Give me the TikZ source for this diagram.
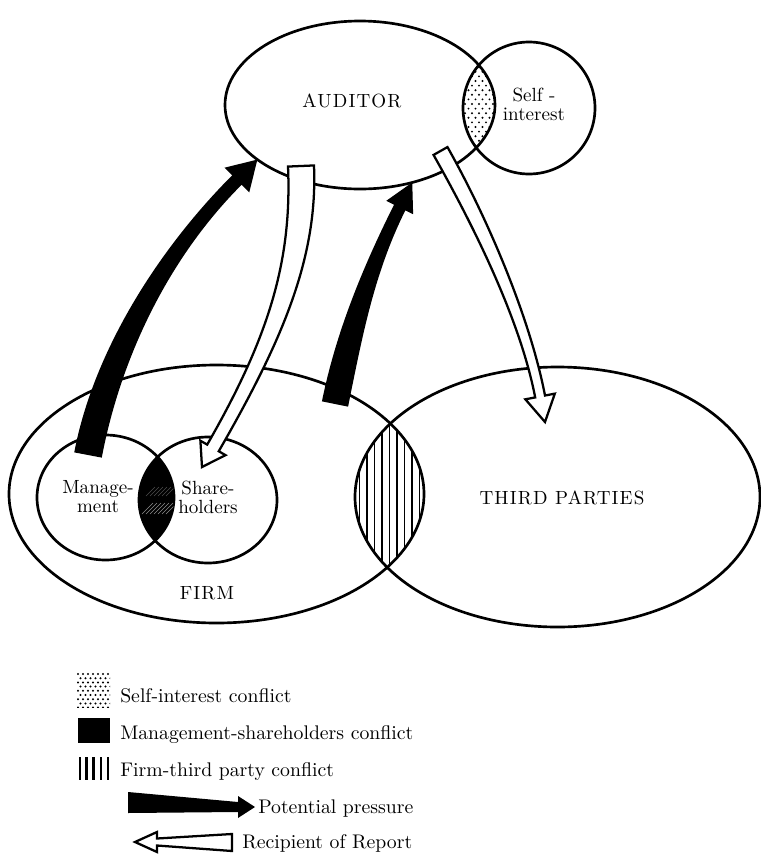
\documentclass[tikz,border=0pt]{standalone}
\usepackage{fontspec}
\setmainfont{lmroman10-regular.otf}
\usetikzlibrary{calc,shapes.geometric}

% Tapered, curved arrow with a triangular head.
% #1 style, #2 tail coordinate, #3 first control (relative to tail),
% #4 second control (relative to tip), #5 tip coordinate,
% #6 tail half-width, #7 neck half-width, #8 head half-width, #9 head length
\newcommand\bentarrow[9]{%
  \path (#2) coordinate (ba-p0)
        ($(#2)+#3$) coordinate (ba-c1)
        ($(#5)+#4$) coordinate (ba-c2)
        (#5) coordinate (ba-x);
  \path ($(ba-x)!#9!(ba-c2)$) coordinate (ba-p3);
  \path ($(ba-p0)!#6!90:(ba-c1)$) coordinate (ba-l0)
        ($(ba-p0)!#6!-90:(ba-c1)$) coordinate (ba-r0)
        ($(ba-p3)!#7!-90:(ba-c2)$) coordinate (ba-l3)
        ($(ba-p3)!#7!90:(ba-c2)$) coordinate (ba-r3)
        ($(ba-p3)!#8!-90:(ba-c2)$) coordinate (ba-lh)
        ($(ba-p3)!#8!90:(ba-c2)$) coordinate (ba-rh);
  \path[#1] (ba-l0)
     .. controls ($(ba-l0)+(ba-c1)-(ba-p0)$) and ($(ba-l3)+(ba-c2)-(ba-p3)$) .. (ba-l3)
     -- (ba-lh) -- (ba-x) -- (ba-rh) -- (ba-r3)
     .. controls ($(ba-r3)+(ba-c2)-(ba-p3)$) and ($(ba-r0)+(ba-c1)-(ba-p0)$) .. (ba-r0)
     -- cycle;
}

\tikzset{
  ring/.style={draw, line width=2pt, ellipse, inner sep=0pt, outer sep=0pt},
  lbl/.style={font=\fontsize{14.3}{14.3}\selectfont, align=center, inner sep=0pt},
  caplbl/.style={font=\fontsize{14.3}{14.3}\selectfont\addfontfeature{LetterSpace=6}, inner sep=0pt},
  legtxt/.style={font=\fontsize{14.8}{15}\selectfont, anchor=base west, inner sep=0pt},
  pressure/.style={fill=black},
  report/.style={fill=white, draw=black, line width=1.7pt, line join=miter},
}

\begin{document}
\begin{tikzpicture}[x=0.75pt,y=-0.75pt]
\fill[white] (0,0) rectangle (761,854);
\useasboundingbox (0,0) rectangle (761,854);

% parties
\node[ring, minimum width=202.5pt, minimum height=126pt] (auditor) at (360,105) {};
\node[ring, circle, minimum size=99pt] (self) at (529,108) {};
\node[ring, minimum width=311.25pt, minimum height=193.5pt] (firm) at (216.5,494) {};
\node[ring, minimum width=303.75pt, minimum height=195pt] (third) at (557.5,497) {};
\node[ring, minimum width=102.75pt, minimum height=93.75pt] (mgmt) at (105.5,497.5) {};
\node[ring, minimum width=103.5pt, minimum height=94.5pt] (share) at (208,500) {};

% self-interest conflict: dotted lens
\begin{scope}
  \clip (auditor.center) ellipse [x radius=101.25pt, y radius=63pt];
  \clip (self.center) circle [radius=49.5pt];
  \foreach \j in {0,...,20}
    \foreach \i in {0,...,6}
      \fill ({458+\i*7+mod(\j,2)*3.5},{58+\j*4.6}) circle [radius=0.8pt];
\end{scope}

% management-shareholders conflict: dark lens
\begin{scope}
  \clip (mgmt.center) ellipse [x radius=51.375pt, y radius=46.875pt];
  \fill (share.center) ellipse [x radius=51.75pt, y radius=47.25pt];
  \foreach \k in {0,...,6}
    \draw[white, line width=0.4pt, opacity=0.55] ({142+\k*4},{514}) -- ++(11,-11);
  \foreach \k in {0,...,5}
    \draw[white, line width=0.3pt, opacity=0.3] ({146+\k*4},{496}) -- ++(9,-9);
\end{scope}

% firm-third party conflict: striped lens
\begin{scope}
  \clip (firm.center) ellipse [x radius=155.625pt, y radius=96.75pt];
  \clip (third.center) ellipse [x radius=151.875pt, y radius=97.5pt];
  \foreach \k in {0,...,9}
    \draw[line width=1.2pt] ({359.5+\k*7.5},410) -- ({359.5+\k*7.5},580);
\end{scope}

% labels
\node[caplbl] (auditorlbl) at (352,101) {AUDITOR};
\node[lbl] (selflbl) at (534,104) {Self -\\interest};
\node[lbl] (mgmtlbl) at (98,497) {Manage-\\ment};
\node[lbl] (sharelbl) at (208,497) {Share-\\holders};
\node[caplbl] (firmlbl) at (207,593) {FIRM};
\node[caplbl] (thirdlbl) at (562,498) {THIRD PARTIES};

% pressure from management and from the firm on the auditor
\coordinate (pA0) at ($(mgmt.center)+(-17.5,-42.5)$);
\coordinate (pAx) at (auditor.208);
\bentarrow{pressure}{pA0}{(20,-105)}{(-90.5,90.5)}{pAx}{10.5pt}{5pt}{13.125pt}{21.75pt}

\coordinate (pB0) at ($(firm.center)+(118.5,-90)$);
\coordinate (pBx) at (auditor.304);
\bentarrow{pressure}{pB0}{(14,-69)}{(-44,88)}{pBx}{10pt}{4.75pt}{11.25pt}{21pt}

% the auditor's report going to shareholders and to third parties
\coordinate (pC0) at ($(auditor.center)+(-59,61)$);
\coordinate (pCx) at ($(share.center)+(-6,-33)$);
\bentarrow{report}{pC0}{(4,94)}{(73,-127)}{pCx}{9.75pt}{5pt}{10.875pt}{16.5pt}

\coordinate (pD0) at ($(auditor.center)+(80.5,46)$);
\coordinate (pDx) at ($(third.center)+(-12.5,-75)$);
\bentarrow{report}{pD0}{(39.5,70)}{(-20,-104)}{pDx}{6pt}{3.75pt}{11.25pt}{19.5pt}

% legend
\begin{scope}
  \clip (77,672) rectangle (110,707);
  \foreach \j in {0,...,8}
    \foreach \i in {0,...,7}
      \fill ({78+\i*5+mod(\j,2)*2.5},{674+\j*4.2}) circle [radius=0.85pt];
\end{scope}
\fill (78,718) rectangle (110,743);
\foreach \x in {80,86.5,93.5,101,108}
  \draw[line width=2pt] (\x,757) -- (\x,780);
\fill (128,792) -- (238,802) -- (238,796) -- (255,807) -- (238,818) -- (238,812) -- (128,813) -- cycle;
\filldraw[report] (232,834) -- (157,838.5) -- (157,832) -- (135,842) -- (157,852) -- (157,845.5) -- (232,851) -- cycle;

\node[legtxt] (lg1) at (120,702) {Self-interest conflict};
\node[legtxt] (lg2) at (120,739) {Management-shareholders conflict};
\node[legtxt] (lg3) at (120,776) {Firm-third party conflict};
\node[legtxt] (lg4) at (258,813) {Potential pressure};
\node[legtxt] (lg5) at (242,848) {Recipient of Report};
\end{tikzpicture}
\end{document}
